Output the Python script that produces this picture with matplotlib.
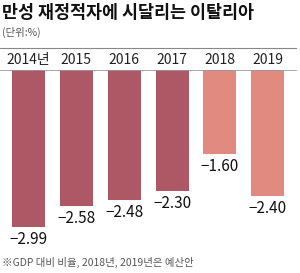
import matplotlib
matplotlib.use('Agg')
import matplotlib.pyplot as plt
from matplotlib.lines import Line2D

plt.rcParams['font.family'] = ['Noto Sans CJK KR', 'DejaVu Sans']

years = ['2014년', '2015', '2016', '2017', '2018', '2019']
deficit = [-2.99, -2.58, -2.48, -2.30, -1.60, -2.40]
labels = ['−2.99', '−2.58', '−2.48', '−2.30', '−1.60', '−2.40']
colors = ['#ad5864'] * 4 + ['#e08a80'] * 2

fig = plt.figure(figsize=(3.0, 2.73), dpi=100)
W, H = 300, 273
ax = fig.add_axes([4.6 / W, 1 - 245 / H, 287 / W, 175 / H])

x = list(range(len(years)))
ax.bar(x, deficit, width=0.69, color=colors)
ax.set_xlim(-0.5, 5.5)
ax.set_ylim(-3.33, 0)
ax.axis('off')

for xi, v, lab in zip(x, deficit, labels):
    ax.annotate(lab, (xi, v), xytext=(0, -3), textcoords='offset points',
                ha='center', va='top', fontsize=11, color='#111111')

for xi, yr in zip(x, years):
    fig.text((4.6 + 23.9 + 47.8 * xi) / W, 1 - 60 / H, yr, ha='center',
             va='center', fontsize=10, color='#222222')

fig.add_artist(Line2D([0, 296 / W], [1 - 48 / H, 1 - 48 / H], color='#888888', lw=0.8))
fig.add_artist(Line2D([0, 296 / W], [1 - 70 / H, 1 - 70 / H], color='#999999', lw=0.6))

fig.text(2 / W, 1 - 13 / H, '만성 재정적자에 시달리는 이탈리아', ha='left', va='center',
         fontsize=12.5, fontweight='bold', color='#111111')
fig.text(2 / W, 1 - 32 / H, '(단위:%)', ha='left', va='center', fontsize=7.5, color='#555555')
fig.text(2 / W, 1 - 262 / H, '※GDP 대비 비율, 2018년, 2019년은 예산안', ha='left', va='center',
         fontsize=7.5, color='#555555')

fig.savefig('out.png', dpi=100)
